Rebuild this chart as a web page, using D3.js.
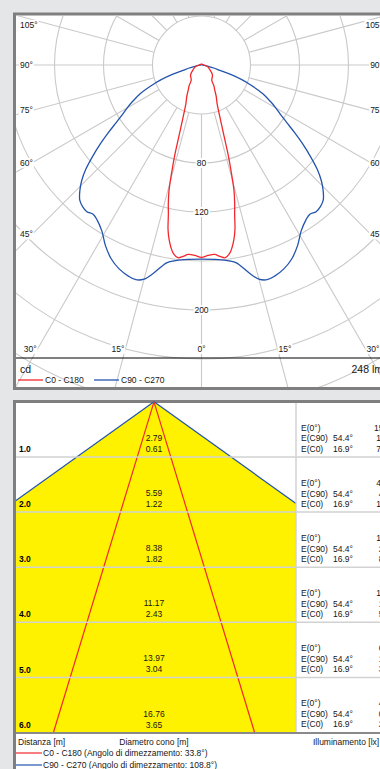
<!DOCTYPE html>
<html><head><meta charset="utf-8">
<script src="https://cdn.jsdelivr.net/npm/d3@7"></script>
<style>
html,body{margin:0;padding:0;background:#e5e6e8;overflow:hidden;}
svg{display:block;font-family:"Liberation Sans",Arial,sans-serif;}
</style></head><body>
<svg id="c" width="380" height="769"></svg>
<script>
// ================= DATA =================
// Polar luminous intensity (cd) vs gamma angle (deg, 0 = straight down)
const c0Angles  = [0,2,4,5.5,7,8.5,9.5,10.5,11.5,12.5,13.5,14.5,15.5,16.5,17.5,18.5,20,22,25,28,31,34,40,48,60,75,90,120,180];
const c0Values  = [157,155.5,155,157,158.5,155.5,151,145,137,125,116,106,91,77,62,52,42,34,28.5,23,19.5,15,13.5,12,8,5,2,1,0.6];
const c90Angles = [0,5,8,10,13,15,17,19,22,25,28,31,34,36,38,40,42,44,46,48,50,52,54,56,58,60,62,65,68,70,72,74,76,79,85,90,120,180];
const c90Values = [158.5,159.5,161.5,164,174.5,181,183.3,182.5,179.5,174.5,167,158,152.5,150.5,152,151,148.5,143,136,127,116,105,94,84,76,70,64,55,43,35,25,15,11,5.5,1.5,0.6,0.6,0.6];
const ringValues   = [40,80,120,160,200,240,280,320,360];
const ringLabels   = [80,120,200];
const spokeAngles  = [0,15,30,45,60,75,90,105,120,135,150,165,180,195,210,225,240,255,270,285,300,315,330,345];
const sideLabels   = [105,90,75,60,45];
const bottomLabels = [-30,-15,0,15,30];
const fluxLabel = "248 lm";
const unitLabel = "cd";
const seriesNames = ["C0 - C180","C90 - C270"];
const seriesColors = ["#f2282c","#2354ad"];

// Cone diagram
const distances = [1,2,3,4,5,6];
const distLabels = ["1.0","2.0","3.0","4.0","5.0","6.0"];
const diamC90 = [2.79,5.59,8.38,11.17,13.97,16.76];
const diamC0  = [0.61,1.22,1.82,2.43,3.04,3.65];
const halfAngleC90 = "54.4°", halfAngleC0 = "16.9°";
const eCenter = [159,40,18,10,6,4];
const eC90    = [16,4,2,1,1,0];
const eC0     = [73,18,8,5,3,2];
const coneLegend = ["C0 - C180 (Angolo di dimezzamento: 33.8°)","C90 - C270 (Angolo di dimezzamento: 108.8°)"];

// ================= DRAW =================
const svg = d3.select('#c');
const txtCol = "#161616";
const gridCol = "#c9c9c9";
const FS = 8.5;

function bgLabel(g, x, y, txt, anchor, size){
  const t = g.append('text').attr('x',x).attr('y',y).attr('dy','0.35em')
    .attr('text-anchor',anchor||'start').attr('font-size',size||FS).attr('fill',txtCol).text(txt);
  const b = t.node().getBBox();
  g.insert('rect', () => t.node()).attr('x',b.x-1).attr('y',b.y).attr('width',b.width+2).attr('height',b.height).attr('fill','#fff');
  return t;
}

// ---------- top panel (polar) ----------
const P = {x0:16, y0:15.5, x1:387, y1:387};
svg.append('rect').attr('x',14.5).attr('y',14).attr('width',374).attr('height',374.5)
  .attr('fill','#fff').attr('stroke','#7f7f7f').attr('stroke-width',3);
svg.append('clipPath').attr('id','pc').append('rect')
  .attr('x',P.x0).attr('y',P.y0).attr('width',P.x1-P.x0).attr('height',P.y1-P.y0);
const cx = 201.5, cy = 65;
const r = d3.scaleLinear().domain([0,40]).range([0,49]);
const gp = svg.append('g').attr('clip-path','url(#pc)');
const grid = gp.append('g').attr('transform',`translate(${cx},${cy})`);
grid.selectAll('circle').data(ringValues).join('circle')
  .attr('r',d=>r(d)).attr('fill','none').attr('stroke',gridCol).attr('stroke-width',1.1);
const rad = d => d*Math.PI/180;
grid.selectAll('line').data(spokeAngles).join('line')
  .attr('x1',d=>r(40)*Math.sin(rad(d))).attr('y1',d=>r(40)*Math.cos(rad(d)))
  .attr('x2',d=>r(480)*Math.sin(rad(d))).attr('y2',d=>r(480)*Math.cos(rad(d)))
  .attr('stroke',gridCol).attr('stroke-width',1.1);

function polarPts(angles, values){
  const pts = [];
  for (let i=angles.length-1;i>=0;i--) pts.push([Math.PI-rad(angles[i]), r(values[i])]);
  for (let i=1;i<angles.length;i++) pts.push([Math.PI+rad(angles[i]), r(values[i])]);
  return pts;
}
const radial = d3.lineRadial().angle(d=>d[0]).radius(d=>d[1]).curve(d3.curveCatmullRom.alpha(0.5));
const curves = gp.append('g').attr('transform',`translate(${cx},${cy})`);
curves.append('path').attr('d',radial(polarPts(c90Angles,c90Values)))
  .attr('fill','none').attr('stroke',seriesColors[1]).attr('stroke-width',1.3);
curves.append('path').attr('d',radial(polarPts(c0Angles,c0Values)))
  .attr('fill','none').attr('stroke',seriesColors[0]).attr('stroke-width',1.3);

// ring labels
const lab = svg.append('g');
ringLabels.forEach(v => bgLabel(lab, cx, cy + r(v), v, 'middle'));
// side angle labels
const crossL = 32, crossR = 371;
sideLabels.forEach(a => {
  const ya = Math.max(25, cy + (cx-crossL)*Math.cos(rad(a))/Math.sin(rad(a)));
  bgLabel(lab, 20, ya, a+"°", 'start');
  const yb = Math.max(25, cy + (crossR-cx)*Math.cos(rad(a))/Math.sin(rad(a)));
  bgLabel(lab, 383, yb, a+"°", 'end');
});
// bottom angle labels
const yB = 349;
bottomLabels.forEach(a => {
  const x = cx + (yB-cy)*Math.tan(rad(a));
  bgLabel(lab, x + (a<0?-1:a>0?1:0), yB, Math.abs(a)+"°", a<0?'end':a>0?'start':'middle');
});
// base line, unit, flux, legend
svg.append('line').attr('x1',P.x0).attr('x2',P.x1).attr('y1',358).attr('y2',358).attr('stroke','#000').attr('stroke-width',1.2);
svg.append('text').attr('x',20).attr('y',369).attr('dy','0.35em').attr('font-size',10.5).attr('fill',txtCol).text(unitLabel);
svg.append('text').attr('x',383).attr('y',369).attr('dy','0.35em').attr('text-anchor','end').attr('font-size',10.5).attr('fill',txtCol).text(fluxLabel);
const legX = [18,94];
seriesNames.forEach((n,i) => {
  svg.append('line').attr('x1',legX[i]).attr('x2',legX[i]+25).attr('y1',380).attr('y2',380).attr('stroke',seriesColors[i]).attr('stroke-width',1.3);
  svg.append('text').attr('x',legX[i]+27).attr('y',380).attr('dy','0.35em').attr('font-size',FS).attr('fill',txtCol).text(n);
});

// ---------- bottom panel (cone) ----------
svg.append('rect').attr('x',14.5).attr('y',401.5).attr('width',390).attr('height',400)
  .attr('fill','#fff').attr('stroke','#7f7f7f').attr('stroke-width',3);
const C = {x0:16, x1:296, y0:403, y1:732.5};
const yD = d3.scaleLinear().domain([0,6]).range([401.8,732.5]);
const pxm = (yD(6)-yD(0))/6;
const xD = d3.scaleLinear().domain([-3,3]).range([154-3*pxm,154+3*pxm]);
svg.append('clipPath').attr('id','cc').append('rect')
  .attr('x',C.x0).attr('y',C.y0-2).attr('width',C.x1-C.x0).attr('height',C.y1-C.y0+2);
const gc = svg.append('g').attr('clip-path','url(#cc)');
const dmax = distances[distances.length-1];
const hw90 = diamC90[diamC90.length-1]/2, hw0 = diamC0[diamC0.length-1]/2;
gc.append('path').attr('d', d3.line()([[xD(0),yD(0)],[xD(-hw90),yD(dmax)],[xD(hw90),yD(dmax)]])+'Z')
  .attr('fill','#fff200');
// grid
svg.selectAll('line.hg').data(distances.slice(0,-1)).join('line').attr('class','hg')
  .attr('x1',C.x0).attr('x2',400).attr('y1',d=>yD(d)).attr('y2',d=>yD(d))
  .attr('stroke','#d2d2d2').attr('stroke-width',1.5);
svg.append('line').attr('x1',C.x1).attr('x2',C.x1).attr('y1',C.y0).attr('y2',yD(dmax))
  .attr('stroke','#d2d2d2').attr('stroke-width',1.5);
// cone lines
[-1,1].forEach(s => {
  gc.append('line').attr('x1',xD(0)).attr('y1',yD(0)).attr('x2',xD(s*hw90)).attr('y2',yD(dmax))
    .attr('stroke',seriesColors[1]).attr('stroke-width',1.2);
  gc.append('line').attr('x1',xD(0)).attr('y1',yD(0)).attr('x2',xD(s*hw0)).attr('y2',yD(dmax))
    .attr('stroke',seriesColors[0]).attr('stroke-width',1.2);
});
svg.append('line').attr('x1',C.x0).attr('x2',400).attr('y1',yD(dmax)+0.5).attr('y2',yD(dmax)+0.5)
  .attr('stroke','#8a8a8a').attr('stroke-width',2);
// texts per row
const fmt2 = d3.format('.2f');
distances.forEach((d,i) => {
  const y = yD(d);
  const T = (x,yy,t,anc) => svg.append('text').attr('x',x).attr('y',yy).attr('dy','0.35em')
     .attr('text-anchor',anc||'start').attr('font-size',FS).attr('fill',txtCol).text(t);
  T(19, y-7.8, distLabels[i]).attr('font-weight','bold').attr('fill','#000');
  T(xD(0), y-18.9, fmt2(diamC90[i]), 'middle');
  T(xD(0), y-7.9, fmt2(diamC0[i]), 'middle');
  T(301, y-29, "E(0°)");
  T(301, y-18.5, "E(C90)");
  T(301, y-8, "E(C0)");
  T(333, y-18.5, halfAngleC90);
  T(333, y-8, halfAngleC0);
  T(381, y-29, eCenter[i], 'middle');
  T(381, y-18.5, eC90[i], 'middle');
  T(381, y-8, eC0[i], 'middle');
});
const T2 = (x,yy,t,anc) => svg.append('text').attr('x',x).attr('y',yy).attr('dy','0.35em')
     .attr('text-anchor',anc||'start').attr('font-size',FS).attr('fill',txtCol).text(t);
T2(18, 742, "Distanza [m]");
T2(xD(0), 742, "Diametro cono [m]", 'middle');
T2(313, 742, "Illuminamento [lx]");
coneLegend.forEach((n,i) => {
  const y = 753 + i*12;
  svg.append('line').attr('x1',16).attr('x2',42).attr('y1',y).attr('y2',y).attr('stroke',seriesColors[i]).attr('stroke-width',1.2);
  T2(43, y, n);
});
</script>
</body></html>
